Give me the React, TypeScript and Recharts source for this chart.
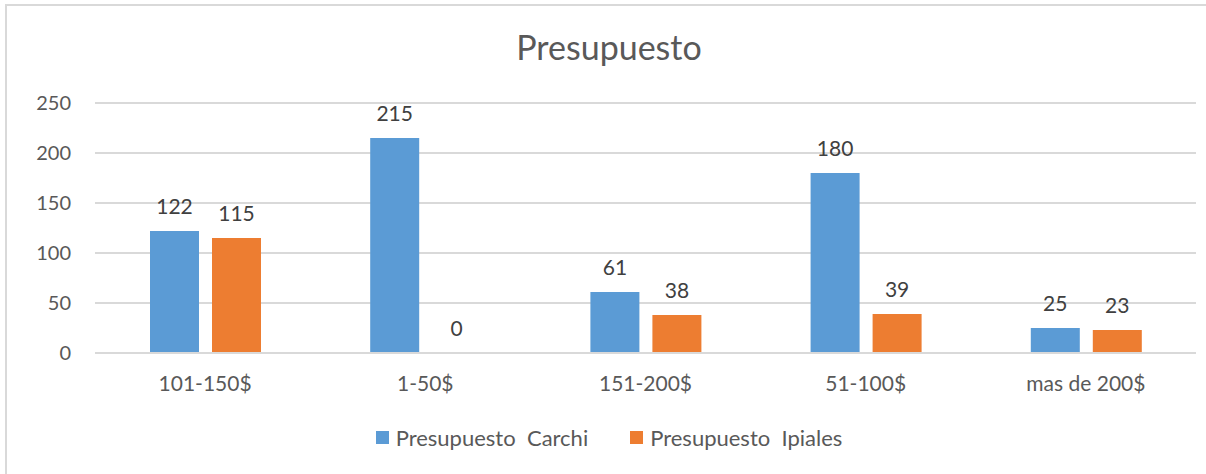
import { BarChart, Bar, XAxis, YAxis, CartesianGrid, Legend, LabelList } from "recharts";

const categories = ["101-150$", "1-50$", "151-200$", "51-100$", "mas de 200$"];
const carchi = [122, 215, 61, 180, 25];
const ipiales = [115, 0, 38, 39, 23];
const yTicks = [0, 50, 100, 150, 200, 250];

const seriesNames = ["Presupuesto  Carchi", "Presupuesto  Ipiales"];
const BLUE = "#5B9BD5";
const ORANGE = "#ED7D31";
const TEXT = "#595959";
const GRID = "#d9d9d9";
const FONT = "Lato, 'Open Sans', sans-serif";

const data = categories.map((name, i) => ({ name, carchi: carchi[i], ipiales: ipiales[i] }));

function LegendBox() {
  const items = [
    { label: seriesNames[0], color: BLUE },
    { label: seriesNames[1], color: ORANGE },
  ];
  return (
    <div style={{ display: "flex", justifyContent: "center", gap: 42, fontFamily: FONT, fontSize: 22, color: TEXT, height: 22, alignItems: "center" }}>
      {items.map((it) => (
        <div key={it.label} style={{ display: "flex", alignItems: "center" }}>
          <span style={{ width: 13, height: 13, background: it.color, display: "inline-block", marginRight: 7 }} />
          <span style={{ whiteSpace: "pre" }}>{it.label}</span>
        </div>
      ))}
    </div>
  );
}

// custom label so the zero-height bar still gets its "0"
function ValueLabel(props: any) {
  const { x, y, width, value } = props;
  if (value === undefined || value === null) return null;
  return (
    <text
      x={Number(x) + Number(width) / 2}
      y={Number(y) - 17}
      textAnchor="middle"
      fill="#404040"
      fontSize={21}
      fontFamily={FONT}
    >
      {value}
    </text>
  );
}

export default function App() {
  return (
    <div style={{ position: "absolute", left: 0, top: 0, width: 1206, height: 474, overflow: "hidden", background: "#fff" }}>
      <div style={{ position: "absolute", left: 5, top: 4, width: 1400, height: 600, borderLeft: `2px solid ${GRID}`, borderTop: `2px solid ${GRID}` }} />
      <div style={{ position: "absolute", top: 26, left: 0, width: 1218, textAlign: "center", fontFamily: FONT, fontSize: 34, color: TEXT }}>
        Presupuesto
      </div>
      <BarChart
        width={1206}
        height={474}
        data={data}
        margin={{ top: 103, right: 10, bottom: 59, left: 35 }}
        barCategoryGap={55}
        barGap={13}
        style={{ position: "absolute", left: 0, top: 0 }}
      >
        <CartesianGrid horizontal vertical={false} stroke={GRID} strokeWidth={2} />
        <XAxis
          dataKey="name"
          height={40}
          axisLine={{ stroke: GRID, strokeWidth: 2 }}
          tickLine={false}
          tickMargin={17}
          tick={{ fill: TEXT, fontSize: 21, fontFamily: FONT }}
          interval={0}
        />
        <YAxis
          width={60}
          domain={[0, 250]}
          ticks={yTicks}
          axisLine={false}
          tickLine={false}
          tickSize={0}
          tickMargin={24}
          tick={{ fill: TEXT, fontSize: 20, fontFamily: FONT }}
        />
        <Legend
          verticalAlign="bottom"
          height={22}
          content={() => <LegendBox />}
          wrapperStyle={{ top: 426, left: 0, width: 1218 }}
        />
        <Bar dataKey="carchi" fill={BLUE} isAnimationActive={false} minPointSize={0.01}>
          <LabelList dataKey="carchi" content={ValueLabel} />
        </Bar>
        <Bar dataKey="ipiales" fill={ORANGE} isAnimationActive={false} minPointSize={0.01}>
          <LabelList dataKey="ipiales" content={ValueLabel} />
        </Bar>
      </BarChart>
    </div>
  );
}
